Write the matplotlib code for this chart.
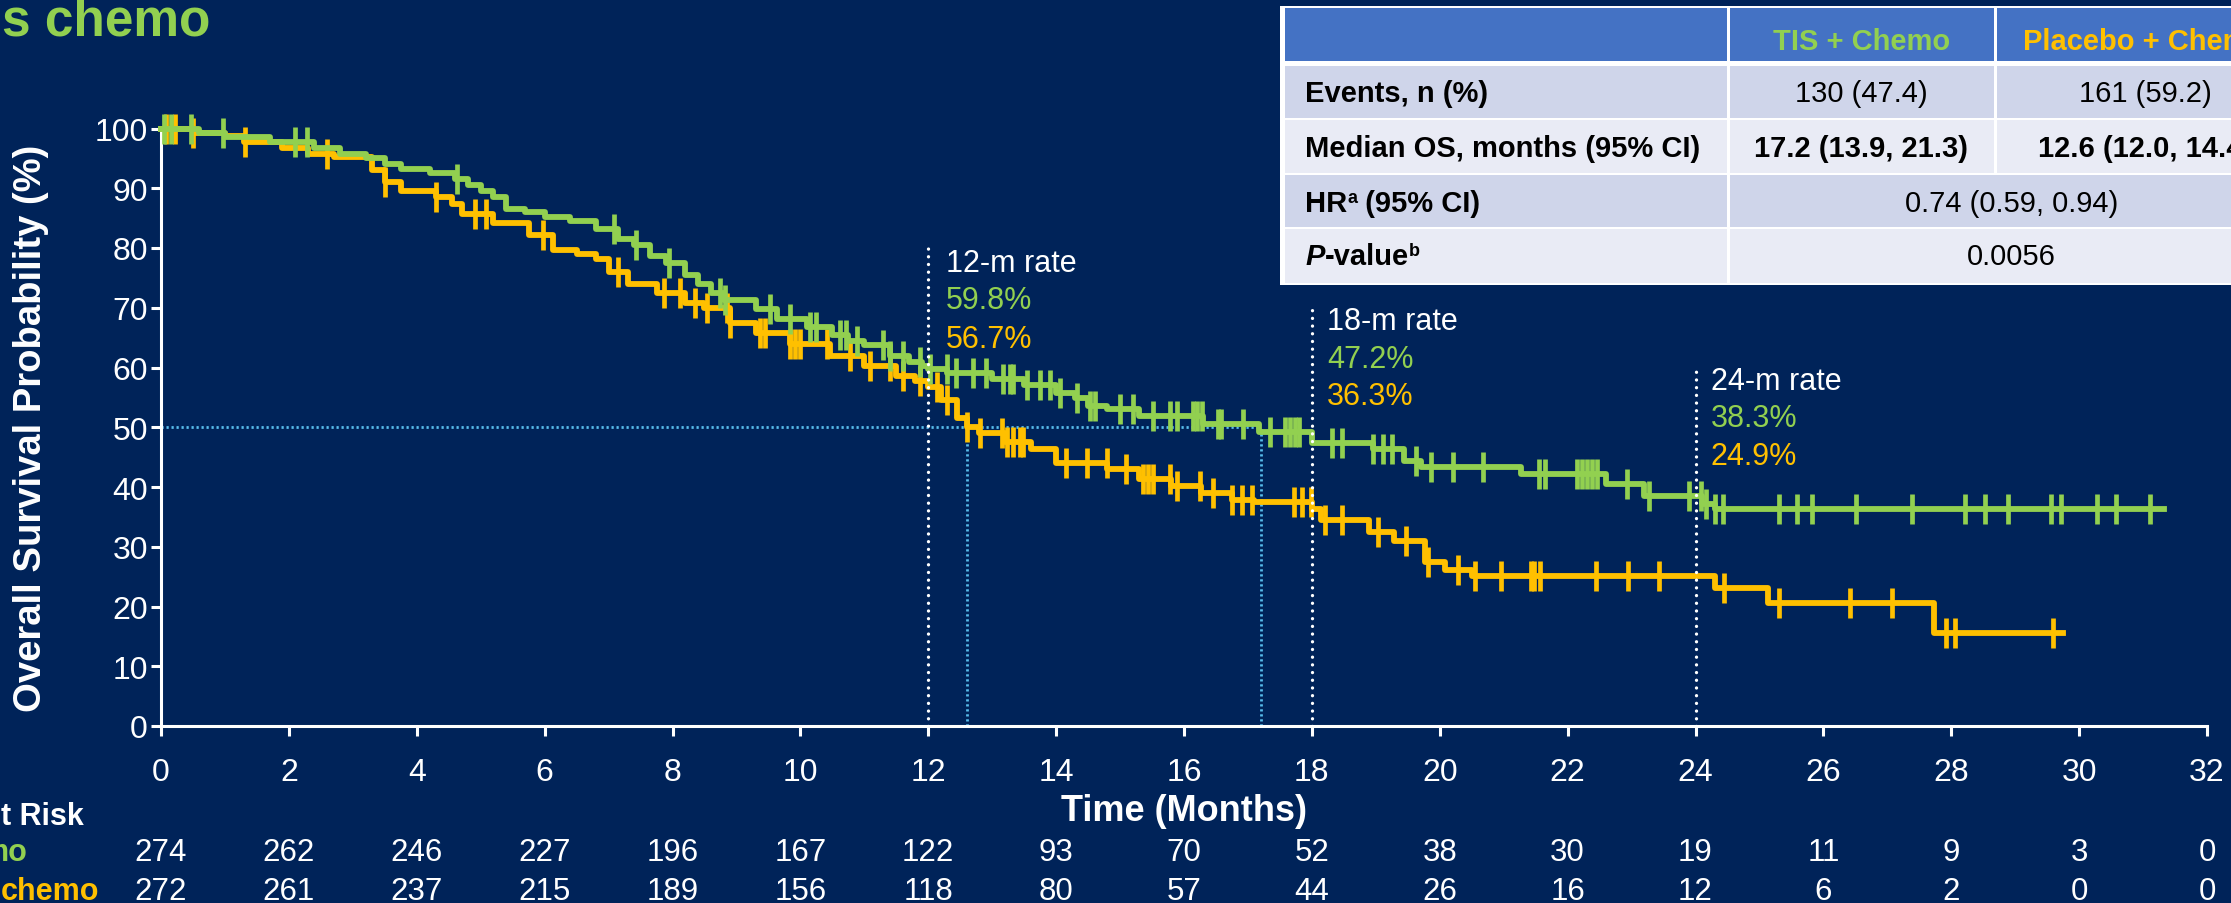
import numpy as np
import matplotlib
matplotlib.use('Agg')
import matplotlib.pyplot as plt
from matplotlib.patches import Rectangle
from matplotlib.transforms import blended_transform_factory

plt.rcParams['font.family'] = ['Liberation Sans', 'DejaVu Sans']

# ---------------- data ----------------
tis_time = [0, 0.6, 1.0, 1.7, 2.4, 2.8, 3.2, 3.5, 3.75, 4.2, 4.6, 4.8, 5.0, 5.2, 5.4, 5.7,
            6.0, 6.4, 6.8, 7.15, 7.4, 7.65, 7.9, 8.2, 8.4, 8.6, 8.8, 9.3, 9.63, 10.1, 10.5,
            10.75, 11.0, 11.4, 11.7, 11.9, 12.0, 12.3, 13.0, 13.5, 14.0, 14.3, 14.5, 14.8,
            15.3, 16.3, 17.17, 18.0, 18.96, 19.44, 19.7, 21.27, 22.6, 23.2, 24.1, 24.3]
tis_surv = [100, 99.2, 98.5, 97.7, 96.8, 95.8, 95.0, 94.0, 93.2, 92.5, 91.5, 90.5, 89.5, 88.5,
            86.5, 86.0, 85.2, 84.5, 83.2, 81.5, 80.5, 78.6, 77.5, 75.5, 74.0, 72.5, 71.3, 69.8,
            68.2, 66.8, 65.5, 64.5, 63.7, 62.0, 61.0, 60.3, 59.8, 59.0, 58.0, 57.0, 55.8, 54.9,
            53.5, 53.0, 51.8, 50.5, 49.2, 47.4, 46.3, 44.4, 43.3, 42.2, 40.5, 38.5, 37.2, 36.3]
tis_end = 31.33
tis_cens = [0.05, 0.16, 0.47, 0.97, 2.09, 2.28, 4.63, 7.08, 7.43, 7.95, 8.74, 8.82, 9.52, 9.84,
            10.15, 10.25, 10.62, 10.72, 10.88, 11.3, 11.4, 11.61, 11.87, 12.03, 12.29, 12.44,
            12.7, 12.91, 13.17, 13.28, 13.33, 13.54, 13.75, 13.9, 14.06, 14.32, 14.53, 14.61,
            15.0, 15.2, 15.52, 15.78, 15.89, 16.14, 16.2, 16.28, 16.53, 16.58, 16.93, 17.34,
            17.58, 17.66, 17.74, 17.8, 18.31, 18.47, 18.96, 19.12, 19.25, 19.63, 19.87, 20.2,
            20.68, 21.55, 21.65, 22.14, 22.22, 22.3, 22.38, 22.46, 22.93, 23.27, 23.9, 24.08,
            24.17, 24.30, 24.43, 25.31, 25.59, 25.82, 26.51, 27.39, 28.22, 28.53, 28.89, 29.56,
            29.72, 30.28, 30.58, 31.11]

pbo_time = [0, 0.5, 1.0, 1.3, 1.9, 2.3, 2.7, 3.3, 3.5, 3.75, 4.3, 4.55, 4.7, 5.2, 5.75, 6.13,
            6.5, 6.8, 7.0, 7.3, 7.76, 8.2, 8.5, 8.9, 9.3, 9.84, 10.46, 11.0, 11.5, 11.8, 12.0,
            12.2, 12.45, 12.6, 12.8, 13.2, 13.6, 14.0, 14.8, 15.3, 15.8, 16.27, 16.75, 17.1,
            18.0, 18.15, 18.9, 19.28, 19.77, 20.08, 20.5, 24.3, 25.13, 27.73]
pbo_surv = [100, 99.3, 98.8, 97.8, 96.8, 95.8, 95.2, 93.0, 91.0, 89.5, 88.5, 87.4, 85.7, 84.2,
            82.2, 79.7, 79.0, 78.2, 76.0, 74.0, 72.5, 70.8, 70.0, 67.5, 65.8, 64.0, 62.0, 60.3,
            58.5, 57.7, 56.7, 54.5, 51.5, 50.0, 49.0, 47.5, 46.3, 44.0, 43.0, 41.3, 40.2, 39.0,
            37.9, 37.5, 36.3, 34.4, 32.5, 31.0, 27.4, 26.1, 25.1, 23.1, 20.6, 15.6]
pbo_end = 29.75
pbo_cens = [0.08, 0.22, 0.5, 1.31, 2.59, 3.51, 4.3, 4.91, 5.08, 5.97, 7.15, 7.87, 8.12, 8.35,
            8.54, 8.85, 8.9, 9.37, 9.45, 9.84, 9.92, 9.99, 10.41, 10.78, 11.09, 11.4, 11.61,
            11.87, 12.13, 12.29, 12.6, 12.81, 13.15, 13.23, 13.33, 13.43, 13.48, 14.16, 14.48,
            14.79, 15.1, 15.36, 15.44, 15.52, 15.78, 15.89, 16.25, 16.46, 16.75, 16.91, 17.07,
            17.72, 17.85, 17.99, 18.2, 18.47, 19.04, 19.47, 19.82, 20.28, 20.55, 20.96, 21.42,
            21.47, 21.57, 22.44, 22.95, 23.43, 24.44, 25.3, 26.41, 27.07, 27.92, 28.06, 29.59]

risk_times = [0, 2, 4, 6, 8, 10, 12, 14, 16, 18, 20, 22, 24, 26, 28, 30, 32]
tis_risk = [274, 262, 246, 227, 196, 167, 122, 93, 70, 52, 38, 30, 19, 11, 9, 3, 0]
pbo_risk = [272, 261, 237, 215, 189, 156, 118, 80, 57, 44, 26, 16, 12, 6, 2, 0, 0]

landmarks = [12, 18, 24]
tis_rates = ['59.8%', '47.2%', '38.3%']
pbo_rates = ['56.7%', '36.3%', '24.9%']
medians = [12.6, 17.2]

table_header = ['', 'TIS + Chemo', 'Placebo + Chemo']
events = ['130 (47.4)', '161 (59.2)']
median_os = ['17.2 (13.9, 21.3)', '12.6 (12.0, 14.4)']
hr_text = '0.74 (0.59, 0.94)'
p_text = '0.0056'

# ---------------- style ----------------
BG = '#002359'
GREEN = '#92D050'
ORANGE = '#FFC000'
LBLUE = '#58BDEB'
W, H = 2231, 904

fig = plt.figure(figsize=(W / 100, H / 100), dpi=100, facecolor=BG)
ax = fig.add_axes([161 / W, 1 - 727 / H, (2207 - 161) / W, (727 - 129.5) / H])
ax.set_facecolor(BG)
ax.set_xlim(0, 32)
ax.set_ylim(0, 100)
for s in ['top', 'right']:
    ax.spines[s].set_visible(False)
for s in ['left', 'bottom']:
    ax.spines[s].set_color('white')
    ax.spines[s].set_linewidth(2.2)
ax.set_xticks(risk_times)
ax.set_yticks(range(0, 101, 10))
ax.tick_params(axis='both', colors='white', labelsize=23, width=2.2, length=7.5)
ax.tick_params(axis='y', pad=2)
ax.tick_params(axis='x', pad=15)


def surv_at(times, surv, t):
    i = np.searchsorted(times, t, side='right') - 1
    return np.asarray(surv)[i]


# reference lines (light blue median lines)
ax.plot([0, max(medians)], [50, 50], color=LBLUE, lw=2.0, ls=(0, (0.8, 1.0)), zorder=1)
for m in medians:
    ax.plot([m, m], [0, 50], color=LBLUE, lw=2.0, ls=(0, (0.8, 1.0)), zorder=1)

# KM curves
for times, surv, end, cens, col in [(pbo_time, pbo_surv, pbo_end, pbo_cens, ORANGE),
                                     (tis_time, tis_surv, tis_end, tis_cens, GREEN)]:
    t = np.array(times + [end])
    s = np.array(surv + [surv[-1]])
    ax.step(t, s, where='post', color=col, lw=4.2, zorder=3, clip_on=False)
    cy = surv_at(np.array(times), surv, np.array(cens))
    ax.plot(cens, cy, ls='none', marker='|', ms=21, mew=3.4, color=col, zorder=3, clip_on=False)

# landmark annotations
tops = [80.4, 70.3, 60.4]
text_x = [12.27, 18.24, 24.24]
text_y = [[76.2, 69.96, 63.5], [66.4, 60.1, 53.9], [56.4, 50.2, 43.8]]
for lm, top, tx, ty, r1, r2 in zip(landmarks, tops, text_x, text_y, tis_rates, pbo_rates):
    ax.plot([lm, lm], [0, top], color='white', lw=2.4, ls=(0, (0.01, 2.3)),
            dash_capstyle='round', zorder=4)
    ax.text(tx, ty[0], f'{lm}-m rate', color='white', fontsize=22, va='baseline', ha='left')
    ax.text(tx, ty[1], r1, color=GREEN, fontsize=22, va='baseline', ha='left')
    ax.text(tx, ty[2], r2, color=ORANGE, fontsize=22, va='baseline', ha='left')

# axis labels
fig.text(1184 / W, 1 - 812 / H, 'Time (Months)', color='white', fontsize=26,
         fontweight='bold', ha='center', va='center')
fig.text(31 / W, 1 - 428 / H, 'Overall Survival Probability (%)', color='white', fontsize=27.5,
         fontweight='bold', ha='center', va='center', rotation=90)

# number at risk
tr = blended_transform_factory(ax.transData, fig.transFigure)
for x, a, b in zip(risk_times, tis_risk, pbo_risk):
    ax.text(x, 1 - 861.5 / H, str(a), transform=tr, color='white', fontsize=22.5,
            ha='center', va='baseline', clip_on=False)
    ax.text(x, 1 - 900 / H, str(b), transform=tr, color='white', fontsize=22.5,
            ha='center', va='baseline', clip_on=False)
fig.text(84 / W, 1 - 825 / H, 't Risk', color='white', fontsize=22, fontweight='bold',
         ha='right', va='baseline')
fig.text(28 / W, 1 - 861.5 / H, 'mo', color=GREEN, fontsize=22, fontweight='bold',
         ha='right', va='baseline')
fig.text(99 / W, 1 - 900 / H, 'chemo', color=ORANGE, fontsize=22, fontweight='bold',
         ha='right', va='baseline')

# title fragment
fig.text(210 / W, 1 - 35 / H, 's chemo', color=GREEN, fontsize=37, fontweight='bold',
         ha='right', va='baseline')

# ---------------- table ----------------
def frect(x0, y0, x1, y1, color):
    fig.add_artist(Rectangle((x0 / W, 1 - y1 / H), (x1 - x0) / W, (y1 - y0) / H,
                             transform=fig.transFigure, facecolor=color, edgecolor='none'))

cols = [1283, 1728, 1995, 2295]
rows = [(9, 62), (67, 119), (121, 174), (176, 228), (230, 284)]
row_colors = ['#4472C4', '#CFD5EA', '#E9EBF5', '#CFD5EA', '#E9EBF5']
frect(1280, 7, 2300, 286, 'white')
for ri, ((y0, y1), c) in enumerate(zip(rows, row_colors)):
    if ri >= 3:
        frect(cols[0] + 2, y0, cols[1] - 1.5, y1, c)
        frect(cols[1] + 1.5, y0, cols[3], y1, c)
    else:
        for ci in range(3):
            frect(cols[ci] + (2 if ci == 0 else 1.5), y0, cols[ci + 1] - 1.5, y1, c)

TFS = 21
baselines = [49.5, 102, 157, 212, 265.5]
c1 = (cols[1] + cols[2]) / 2
c2 = (cols[2] + cols[3]) / 2
cm = (cols[1] + cols[3]) / 2
fig.text(c1 / W, 1 - baselines[0] / H, table_header[1], color=GREEN, fontsize=TFS,
         fontweight='bold', ha='center', va='baseline')
fig.text(c2 / W, 1 - baselines[0] / H, table_header[2], color=ORANGE, fontsize=TFS,
         fontweight='bold', ha='center', va='baseline')
lx = 1305
fig.text(lx / W, 1 - baselines[1] / H, 'Events, n (%)', color='black', fontsize=TFS,
         fontweight='bold', va='baseline')
fig.text(c1 / W, 1 - baselines[1] / H, events[0], color='black', fontsize=TFS,
         ha='center', va='baseline')
fig.text(c2 / W, 1 - baselines[1] / H, events[1], color='black', fontsize=TFS,
         ha='center', va='baseline')
fig.text(lx / W, 1 - baselines[2] / H, 'Median OS, months (95% CI)', color='black',
         fontsize=TFS, fontweight='bold', va='baseline')
fig.text(c1 / W, 1 - baselines[2] / H, median_os[0], color='black', fontsize=TFS,
         fontweight='bold', ha='center', va='baseline')
fig.text(c2 / W, 1 - baselines[2] / H, median_os[1], color='black', fontsize=TFS,
         fontweight='bold', ha='center', va='baseline')
fig.text(cm / W, 1 - baselines[3] / H, hr_text, color='black', fontsize=TFS,
         ha='center', va='baseline')
fig.text(cm / W, 1 - baselines[4] / H, p_text, color='black', fontsize=TFS,
         ha='center', va='baseline')

renderer = fig.canvas.get_renderer()


def seq_text(x_px, y_px, parts):
    x = x_px
    for s, props, dy in parts:
        t = fig.text(x / W, 1 - (y_px - dy) / H, s, va='baseline', ha='left',
                     color='black', **props)
        bb = t.get_window_extent(renderer=renderer)
        x = bb.x1


seq_text(lx, baselines[3], [('HR', dict(fontsize=TFS, fontweight='bold'), 0),
                            ('a', dict(fontsize=13, fontweight='bold'), 9),
                            (' (95% CI)', dict(fontsize=TFS, fontweight='bold'), 0)])
seq_text(lx, baselines[4], [('P', dict(fontsize=TFS, fontweight='bold', fontstyle='italic'), 0),
                            ('-value', dict(fontsize=TFS, fontweight='bold'), 0),
                            ('b', dict(fontsize=13, fontweight='bold'), 9)])

fig.savefig('out.png', dpi=100, facecolor=BG)
